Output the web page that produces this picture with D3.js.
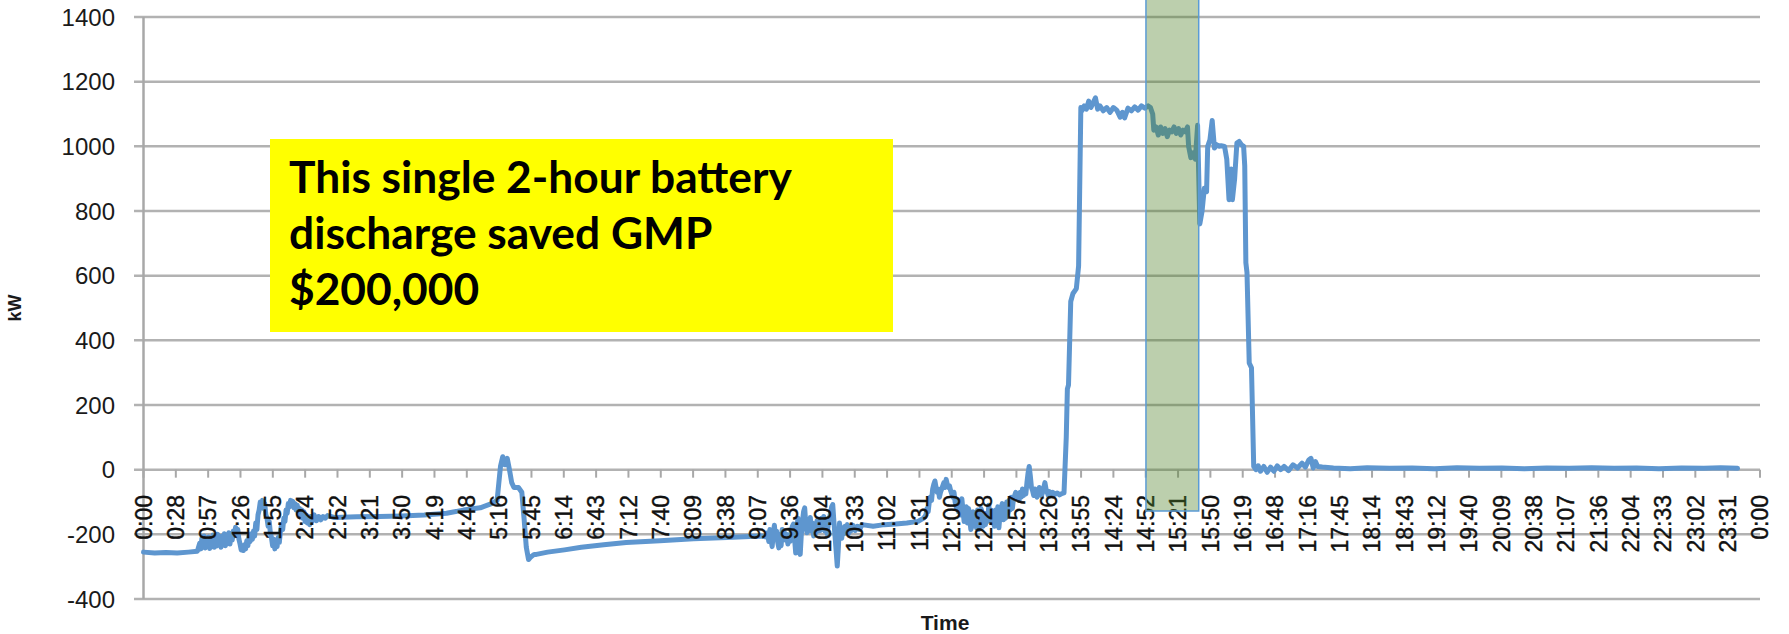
<!DOCTYPE html>
<html>
<head>
<meta charset="utf-8">
<script src="https://cdn.jsdelivr.net/npm/d3@7"></script>
<style>
  html, body { margin: 0; padding: 0; background: #fff; }
  svg { display: block; }
</style>
</head>
<body>
<div id="chart"></div>
<script>
const tickLabels = ["0:00","0:28","0:57","1:26","1:55","2:24","2:52","3:21","3:50","4:19","4:48","5:16","5:45","6:14","6:43","7:12","7:40","8:09","8:38","9:07","9:36","10:04","10:33","11:02","11:31","12:00","12:28","12:57","13:26","13:55","14:24","14:52","15:21","15:50","16:19","16:48","17:16","17:45","18:14","18:43","19:12","19:40","20:09","20:38","21:07","21:36","22:04","22:33","23:02","23:31","0:00"]

const yTicks = [-400, -200, 0, 200, 400, 600, 800, 1000, 1200, 1400]

// minute of day, kW
const kwReadings = [
  [0,-255],[10,-258],[20,-256],[30,-258],[40,-255],[48,-252],
  [50,-228],[51,-245],[52,-212],[53,-238],[54,-205],[55,-242],[56,-218],[57,-236],[58,-208],[59,-244],
  [60,-215],[61,-232],[62,-202],[63,-240],[64,-222],[65,-236],[66,-200],[67,-230],[68,-212],[69,-240],
  [70,-205],[71,-228],[72,-198],[73,-235],[74,-210],[75,-222],[76,-195],[77,-230],[78,-205],[79,-218],
  [80,-190],[81,-205],[82,-178],[83,-200],[84,-185],[85,-215],[86,-230],[87,-248],[88,-238],[89,-250],
  [90,-232],[91,-245],[92,-220],[93,-235],[94,-205],[95,-222],[96,-198],[97,-215],[98,-190],[99,-205],
  [100,-165],[101,-185],[102,-140],[103,-125],[104,-100],[105,-115],[106,-95],[107,-120],[108,-105],[109,-140],
  [110,-150],[111,-175],[112,-160],[113,-195],[114,-210],[115,-235],[116,-215],[117,-245],[118,-225],[119,-238],
  [120,-210],[121,-225],[122,-190],[123,-170],[124,-185],[125,-150],[126,-160],[127,-125],[128,-135],[129,-105],
  [130,-115],[131,-95],[132,-110],[133,-98],[134,-118],[135,-105],[136,-125],[137,-110],[138,-135],[139,-120],
  [140,-145],[141,-125],[142,-150],[143,-130],[144,-160],[145,-140],[146,-165],[147,-150],[148,-170],[149,-145],
  [150,-160],[152,-140],[154,-158],[156,-145],[158,-155],[160,-145],[162,-150],[164,-142],
  [170,-148],[190,-146],[210,-145],[230,-143],[250,-140],[270,-135],[285,-125],[300,-118],[310,-105],[315,-95],
  [316,-60],[318,10],[320,40],[322,15],[324,35],[326,0],[328,-40],[330,-55],[334,-55],[337,-70],
  [339,-150],[341,-240],[343,-278],[345,-270],[348,-262],
  [350,-262],[360,-255],[375,-248],[390,-240],[410,-232],[430,-225],[460,-220],[490,-214],[520,-210],[550,-205],
  [555,-208],[556,-195],[557,-222],[558,-185],[559,-215],[560,-238],[561,-200],[562,-172],[563,-210],[564,-190],
  [565,-225],[566,-242],[567,-200],[568,-235],[569,-185],[570,-205],[571,-195],[572,-218],[573,-200],[574,-230],
  [575,-210],[576,-222],[577,-190],[578,-175],[579,-168],[580,-215],[581,-258],[582,-180],[583,-150],[584,-235],
  [585,-262],[586,-200],[587,-160],[588,-130],[589,-118],[590,-170],[591,-195],[592,-160],[593,-185],[594,-148],
  [595,-190],[596,-165],[597,-205],[598,-170],[599,-195],[600,-158],[601,-190],[602,-165],[603,-188],[604,-150],
  [605,-175],[606,-145],[607,-190],[608,-160],[609,-198],[610,-170],[611,-150],[612,-135],[613,-115],[614,-108],
  [615,-160],[616,-205],[617,-250],[618,-298],[619,-240],[620,-165],[621,-195],[622,-212],[623,-180],[624,-198],
  [625,-175],[626,-190],[627,-170],[628,-198],[629,-178],[630,-190],[632,-172],[634,-188],[636,-175],[638,-185],
  [640,-170],[650,-175],[660,-170],[670,-168],[680,-165],[690,-160],[695,-150],
  [697,-140],[698,-120],[699,-130],[700,-100],[701,-85],[702,-95],[703,-60],[704,-45],[705,-35],[706,-55],
  [707,-70],[708,-60],[709,-85],[710,-70],[711,-60],[712,-50],[713,-40],[714,-55],[715,-30],[716,-45],
  [717,-55],[718,-50],[719,-65],[720,-75],[721,-85],[722,-70],[723,-100],[724,-115],[725,-95],[726,-130],
  [727,-110],[728,-140],[729,-90],[730,-125],[731,-160],[732,-150],[733,-115],[734,-165],[735,-120],[736,-150],
  [737,-185],[738,-175],[739,-130],[740,-160],[741,-140],[742,-180],[743,-125],[744,-185],[745,-150],[746,-120],
  [747,-130],[748,-175],[749,-145],[750,-170],[751,-135],[752,-160],[753,-110],[754,-150],[755,-125],[756,-165],
  [757,-140],[758,-175],[759,-125],[760,-160],[761,-115],[762,-180],[763,-140],[764,-120],[765,-105],[766,-155],
  [767,-130],[768,-150],[769,-100],[770,-135],[771,-95],[772,-125],[773,-85],[774,-120],[775,-90],[776,-80],
  [777,-70],[778,-90],[779,-75],[780,-95],[781,-70],[782,-85],[783,-60],[784,-80],[785,-65],[786,-75],
  [787,-40],[788,-10],[789,10],[790,-20],[791,-55],[792,-65],[793,-80],[794,-60],[795,-75],[796,-85],
  [797,-70],[798,-55],[799,-75],[800,-80],[801,-70],[802,-55],[803,-40],[804,-60],[805,-70],[806,-80],
  [807,-68],[808,-78],[810,-70],[812,-76],[814,-72],[816,-78],[818,-74],[820,-72],
  [822,100],[823,250],[824,262],[826,520],[828,545],[831,560],[833,630],[835,1120],
  [836,1110],[838,1125],[840,1115],[842,1140],[844,1120],[846,1135],[848,1150],[850,1115],[852,1125],[855,1110],
  [858,1120],[861,1105],[864,1120],[867,1112],[870,1090],[872,1105],[874,1088],[877,1118],[880,1110],[883,1122],
  [886,1112],[889,1125],[892,1118],[895,1125],[897,1120],[899,1100],
  [900,1050],[902,1060],[904,1035],[906,1060],[908,1040],[910,1055],[912,1030],[914,1050],[916,1045],[918,1060],
  [920,1040],[922,1055],[924,1035],[926,1050],[928,1045],[930,1060],[931,1000],[933,965],[935,980],[937,960],
  [939,1065],[941,760],[943,800],[945,870],[947,860],[948,1000],[950,1020],[952,1080],[954,995],[956,1005],
  [958,1000],[960,1002],[963,1000],[965,960],[967,835],[968,870],[969,930],[970,835],[972,900],[974,1010],
  [976,1015],[978,1005],[980,1000],[981,940],[982,640],[983,610],[985,330],[987,315],[989,10],
  [991,0],[993,12],[995,-5],[998,10],[1001,-8],[1004,8],[1007,-5],[1010,12],[1013,0],[1016,10],
  [1020,-3],[1024,15],[1028,5],[1032,20],[1035,8],[1038,30],[1040,35],[1042,5],[1044,25],[1046,10],
  [1050,8],[1060,5],[1075,3],[1090,6],[1110,4],[1130,5],[1150,3],[1170,6],[1190,4],[1210,5],
  [1230,3],[1250,5],[1270,4],[1290,6],[1310,4],[1330,5],[1350,3],[1370,5],[1390,4],[1405,6],[1420,4]
]

const peakWindow = [893, 940]

const noteLines = ["This single 2-hour battery", "discharge saved GMP", "$200,000"]

const width = 1789
const height = 634

const x = d3.scaleLinear().domain([0, 1440]).range([143.5, 1760])
const y = d3.scaleLinear().domain([-400, 1400]).range([599, 17])

const svg = d3.select("#chart").append("svg")
    .attr("width", width)
    .attr("height", height)

// grid
svg.append("g")
    .selectAll("line")
    .data(yTicks)
    .join("line")
    .attr("x1", 134)
    .attr("x2", x(1440))
    .attr("y1", d => y(d))
    .attr("y2", d => y(d))
    .attr("stroke", "#b2b2b2")
    .attr("stroke-width", 2.5)

svg.append("line")
    .attr("x1", x(0)).attr("x2", x(0))
    .attr("y1", y(1400)).attr("y2", y(-400))
    .attr("stroke", "#a8a8a8")
    .attr("stroke-width", 2.5)

svg.append("g")
    .attr("font-family", "'Liberation Sans', Arial, sans-serif")
    .attr("font-size", 24)
    .attr("fill", "#1a1a1a")
    .attr("text-anchor", "end")
    .selectAll("text")
    .data(yTicks)
    .join("text")
    .attr("x", 115)
    .attr("y", d => y(d))
    .attr("dy", "0.36em")
    .text(d => d)

// category ticks along the 0 line
const tickMin = tickLabels.map((_, i) => i * 1440 / (tickLabels.length - 1))

svg.append("g")
    .selectAll("line")
    .data(tickMin)
    .join("line")
    .attr("x1", d => x(d)).attr("x2", d => x(d))
    .attr("y1", y(0)).attr("y2", y(0) + 8)
    .attr("stroke", "#a8a8a8")
    .attr("stroke-width", 2)

// load line
const line = d3.line()
    .x(d => x(d[0]))
    .y(d => y(d[1]))

svg.append("path")
    .datum(kwReadings)
    .attr("fill", "none")
    .attr("stroke", "#5e96cf")
    .attr("stroke-width", 5)
    .attr("stroke-linejoin", "round")
    .attr("stroke-linecap", "round")
    .attr("d", line)

svg.append("g")
    .attr("font-family", "'Liberation Sans', Arial, sans-serif")
    .attr("font-size", 23)
    .attr("fill", "#111")
    .attr("stroke", "#111")
    .attr("stroke-width", 0.4)
    .attr("text-anchor", "end")
    .selectAll("text")
    .data(tickLabels)
    .join("text")
    .attr("transform", (d, i) => `translate(${x(tickMin[i])},495) rotate(-90)`)
    .attr("dy", "0.36em")
    .text(d => d)

// peak window overlay
svg.append("rect")
    .attr("x", x(peakWindow[0]))
    .attr("y", -2)
    .attr("width", x(peakWindow[1]) - x(peakWindow[0]))
    .attr("height", 513)
    .attr("fill", "rgba(79,129,39,0.38)")
    .attr("stroke", "#5b9bd5")
    .attr("stroke-width", 1.5)

// axis titles
svg.append("text")
    .attr("transform", "translate(21,308) rotate(-90)")
    .attr("text-anchor", "middle")
    .attr("font-family", "'Liberation Sans', Arial, sans-serif")
    .attr("font-weight", "bold")
    .attr("font-size", 18)
    .attr("fill", "#1a1a1a")
    .text("kW")

svg.append("text")
    .attr("x", 945)
    .attr("y", 630)
    .attr("text-anchor", "middle")
    .attr("font-family", "'Liberation Sans', Arial, sans-serif")
    .attr("font-weight", "bold")
    .attr("font-size", 21)
    .attr("fill", "#1a1a1a")
    .text("Time")

// callout
svg.append("rect")
    .attr("x", 270)
    .attr("y", 139)
    .attr("width", 623)
    .attr("height", 193)
    .attr("fill", "#ffff00")

const note = svg.append("g")
    .attr("font-family", "Lato, 'Open Sans', sans-serif")
    .attr("font-weight", "bold")
    .attr("font-size", 44)
    .attr("fill", "#000")

const noteText = note.selectAll("text")
    .data(noteLines)
    .join("text")
    .attr("x", 289)
    .attr("y", (d, i) => 193 + i * 56)
    .text(d => d)

const w0 = noteText.node().getComputedTextLength()
note.attr("font-size", 44 * 503 / w0)
</script>
</body>
</html>
